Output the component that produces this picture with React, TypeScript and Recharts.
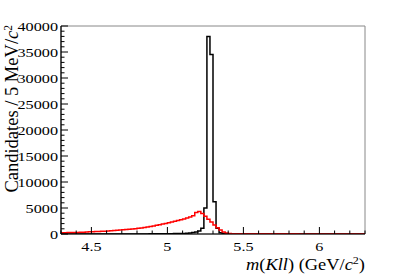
import React from "react"
import { ComposedChart, Line, XAxis, YAxis, ReferenceArea, Label } from "recharts"

// 100 bins of 20 MeV between 4.3 and 6.3 GeV
const binEdges = Array.from({ length: 101 }, (_, i) => +(4.3 + i * 0.02).toFixed(2))

// signal (black) per bin
const signal = [
  10, 10, 10, 10, 10, 10, 10, 10, 10, 10,
  10, 10, 10, 10, 10, 10, 10, 10, 10, 10,
  10, 12, 12, 14, 14, 16, 18, 20, 22, 25,
  30, 35, 40, 45, 50, 60, 70, 80, 90, 100,
  120, 150, 200, 280, 400, 600, 1100, 5000, 38000, 34500,
  6200, 1100, 250, 80, 40, 20, 15, 12, 10, 10,
  10, 10, 10, 10, 10, 10, 10, 10, 10, 10,
  10, 10, 10, 10, 10, 10, 10, 10, 10, 10,
  10, 10, 10, 10, 10, 10, 10, 10, 10, 10,
  10, 10, 10, 10, 10, 10, 10, 10, 10, 10,
]

// background (red) per bin
const background = [
  240, 250, 270, 280, 300, 310, 330, 350, 380, 410,
  430, 460, 480, 510, 540, 570, 610, 650, 700, 750,
  800, 850, 910, 970, 1030, 1100, 1170, 1250, 1340, 1440,
  1550, 1660, 1780, 1900, 2020, 2150, 2290, 2430, 2580, 2740,
  2900, 3080, 3270, 3500, 4150, 4350, 3950, 3400, 2850, 2300,
  1750, 1200, 750, 400, 200, 100, 60, 45, 40, 38,
  36, 35, 34, 33, 32, 31, 30, 30, 29, 28,
  28, 27, 27, 26, 26, 25, 25, 25, 24, 24,
  24, 23, 23, 23, 22, 22, 22, 22, 21, 21,
  21, 21, 20, 20, 20, 20, 20, 20, 20, 20,
]

const xTicks = [4.3, 4.4, 4.5, 4.6, 4.7, 4.8, 4.9, 5, 5.1, 5.2, 5.3, 5.4, 5.5, 5.6, 5.7, 5.8, 5.9, 6, 6.1, 6.2, 6.3]
const xLabels = [4.5, 5, 5.5, 6]
const yTicks = [
  0, 1000, 2000, 3000, 4000, 5000, 6000, 7000, 8000, 9000,
  10000, 11000, 12000, 13000, 14000, 15000, 16000, 17000, 18000, 19000,
  20000, 21000, 22000, 23000, 24000, 25000, 26000, 27000, 28000, 29000,
  30000, 31000, 32000, 33000, 34000, 35000, 36000, 37000, 38000, 39000, 40000,
]
const yLabels = [0, 5000, 10000, 15000, 20000, 25000, 30000, 35000, 40000]

// last edge repeats the last bin so the step closes at 6.3
const data = binEdges.map((x, i) => ({
  x,
  signal: signal[Math.min(i, 99)],
  background: background[Math.min(i, 99)],
}))

const FONT = "'Liberation Serif', 'DejaVu Serif', serif"

const XTick = (props: any) => {
  const { y, payload } = props
  const x = payload.coordinate
  const major = xLabels.some((v) => Math.abs(v - payload.value) < 1e-6)
  return (
    <g>
      <line x1={x} y1={y} x2={x} y2={y - (major ? 7 : 3.5)} stroke="#000" strokeWidth={1} />
      {major && (
        <text
          transform={`translate(${x},${y + 17}) scale(1.2,1)`}
          textAnchor="middle"
          fontSize={13.5}
          fontFamily={FONT}
          fill="#000"
        >
          {payload.value}
        </text>
      )}
    </g>
  )
}

const YTick = (props: any) => {
  const { x, payload } = props
  const y = payload.coordinate
  const major = yLabels.includes(payload.value)
  return (
    <g>
      <line x1={x} y1={y} x2={x + (major ? 7 : 3.5)} y2={y} stroke="#000" strokeWidth={1} />
      {major && (
        <text
          transform={`translate(${x - 3},${y + 5}) scale(1.2,1)`}
          textAnchor="end"
          fontSize={13.5}
          fontFamily={FONT}
          fill="#000"
        >
          {payload.value}
        </text>
      )}
    </g>
  )
}

export default function App() {
  return (
    <div style={{ position: "absolute", left: 0, top: 0, width: 407, height: 276, background: "#fff" }}>
      <ComposedChart width={407} height={276} data={data} margin={{ top: 26, right: 42, bottom: 0, left: 0 }}>
        <ReferenceArea x1={4.3} x2={6.3} y1={0} y2={40000} fill="none" stroke="#888" strokeWidth={1} ifOverflow="visible" />
        <XAxis
          dataKey="x"
          type="number"
          domain={[4.3, 6.3]}
          ticks={xTicks}
          interval={0}
          tickSize={0}
          tickMargin={0}
          tickLine={false}
          tick={<XTick />}
          height={42}
          axisLine={{ stroke: "#000", strokeWidth: 1.2 }}
          allowDataOverflow
        >
          <Label
            content={() => (
              <text
                transform="translate(365,270) scale(1.15,1)"
                textAnchor="end"
                fontSize={16}
                fontFamily={FONT}
                fill="#000"
              >
                <tspan fontStyle="italic">m</tspan>
                <tspan>(</tspan>
                <tspan fontStyle="italic">Kll</tspan>
                <tspan>) (GeV/</tspan>
                <tspan fontStyle="italic">c</tspan>
                <tspan fontSize={10.5} dy={-6.5}>2</tspan>
                <tspan dy={6.5}>)</tspan>
              </text>
            )}
          />
        </XAxis>
        <YAxis
          type="number"
          domain={[0, 40000]}
          ticks={yTicks}
          interval={0}
          tickSize={0}
          tickMargin={0}
          tickLine={false}
          tick={<YTick />}
          width={61}
          axisLine={{ stroke: "#000", strokeWidth: 1.2 }}
          allowDataOverflow
        >
          <Label
            content={() => (
              <text
                transform="translate(17.5,25) rotate(-90)"
                textAnchor="end"
                fontSize={18.5}
                fontFamily={FONT}
                fill="#000"
              >
                <tspan>Candidates / 5 MeV/</tspan>
                <tspan fontStyle="italic">c</tspan>
                <tspan fontSize={11.5} dy={-6}>2</tspan>
              </text>
            )}
          />
        </YAxis>
        <Line
          dataKey="signal"
          type="stepAfter"
          stroke="#000"
          strokeWidth={1.5}
          dot={false}
          activeDot={false}
          isAnimationActive={false}
        />
        <Line
          dataKey="background"
          type="stepAfter"
          stroke="#ff0000"
          strokeWidth={1.5}
          dot={false}
          activeDot={false}
          isAnimationActive={false}
        />
      </ComposedChart>
    </div>
  )
}
